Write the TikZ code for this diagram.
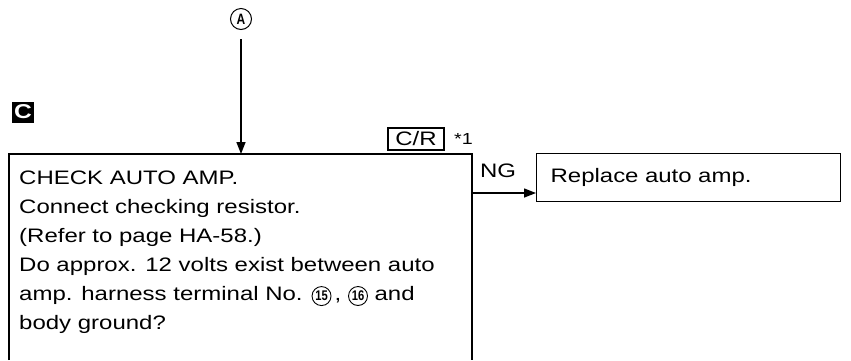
\documentclass[tikz,border=0pt]{standalone}
\usepackage{fontspec}
\setmainfont{Liberation Sans}[FakeStretch=1.23]
\newfontfamily\cnumfont{Liberation Sans}[FakeStretch=0.8]
\usetikzlibrary{arrows.meta, positioning}
\tikzset{
  flow line/.style   = {line width=1.4pt},
  flow arrow/.style  = {line width=1.4pt, -{Triangle[length=12pt, width=9pt]}},
  action box/.style  = {draw, line width=1.2pt, anchor=north west, align=left},
  body text/.style   = {font=\fontsize{19.5}{29}\selectfont},
  tag box/.style     = {draw, line width=1.2pt, inner sep=0pt, minimum width=56pt, minimum height=22pt},
  ref circle/.style  = {circle, draw, line width=1pt, inner sep=0pt, minimum size=21pt},
  sect mark/.style   = {fill=black, text=white, inner sep=0pt, minimum width=22pt, minimum height=21pt},
}
% circled terminal number
\newcommand{\cnum}[1]{\tikz[baseline=(n.base)]\node[circle, draw, line width=0.9pt,
  inner sep=0pt, minimum size=19pt, font=\cnumfont\bfseries\fontsize{14}{14}\selectfont] (n) {#1};}

\begin{document}
\begin{tikzpicture}[x=1pt, y=1pt, body text]
  \useasboundingbox (0,0) rectangle (851,-360);

  % connector A and section mark
  \node[ref circle, font=\cnumfont\bfseries\fontsize{15}{15}\selectfont] (ptA) at (241,-19) {A};
  \node[sect mark, font=\bfseries\fontsize{20}{20}\selectfont] (secC) at (23,-112) {C};

  % check box (open at the bottom)
  \coordinate (chk nw) at (9,-154);
  \coordinate (chk ne) at (472,-154);
  \draw[flow line] (9,-360) -- (chk nw) -- (chk ne) -- (472,-360);
  \node[anchor=north west, align=left, inner sep=0pt] (chktext) at (19,-171)
    {CHECK AUTO AMP.\\
     Connect checking resistor.\\
     (Refer to page HA-58.)\\
     Do approx. 12 volts exist between auto\\
     amp. harness terminal No. \cnum{15}\,, \cnum{16} and\\
     body ground?};

  % C/R tag
  \node[tag box] (cr) at (416,-139) {C/R};
  \node[right=6pt of cr, font=\fontsize{16}{16}\selectfont] (note1) {*1};

  % NG branch
  \node[action box, minimum width=304pt, minimum height=48pt, text width=276pt,
    inner xsep=14pt] (rep) at (536,-153) {Replace auto amp.};
  \coordinate (ng) at (472,-193);
  \node (nglabel) at (498,-171) {NG};

  % connectors
  \draw[flow arrow, shorten <=9pt] (ptA) -- (ptA |- chk nw);
  \draw[flow arrow] (ng) -- (ng -| rep.west);
\end{tikzpicture}
\end{document}
